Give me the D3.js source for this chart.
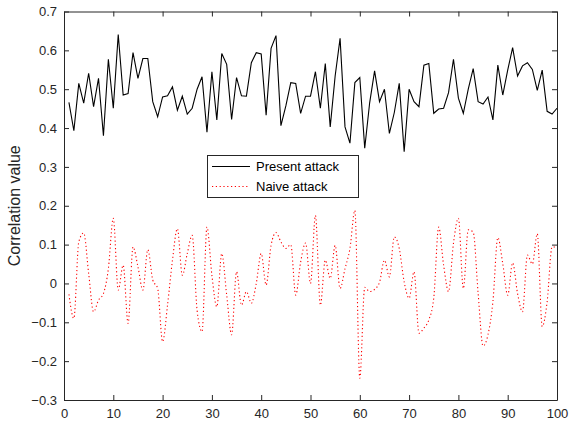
<!DOCTYPE html>
<html><head><meta charset="utf-8">
<script src="https://cdn.jsdelivr.net/npm/d3@7"></script>
<style>body{margin:0;background:#fff}svg{display:block}</style>
</head><body>
<svg id="c" width="569" height="428"></svg>
<script>
const xs = d3.range(1, 101);
const present = [0.466,0.393,0.515,0.464,0.541,0.455,0.528,0.380,0.577,0.451,
0.641,0.485,0.489,0.594,0.528,0.579,0.579,0.468,0.429,0.480,
0.483,0.506,0.446,0.482,0.436,0.451,0.500,0.532,0.389,0.545,
0.421,0.592,0.564,0.422,0.530,0.483,0.482,0.568,0.594,0.591,
0.433,0.605,0.638,0.406,0.457,0.517,0.515,0.438,0.482,0.482,
0.545,0.451,0.566,0.403,0.534,0.631,0.403,0.361,0.517,0.530,
0.348,0.465,0.547,0.468,0.500,0.386,0.440,0.515,0.339,0.500,
0.468,0.455,0.562,0.566,0.438,0.449,0.451,0.491,0.577,0.477,
0.438,0.500,0.553,0.468,0.462,0.480,0.421,0.562,0.485,0.549,
0.607,0.534,0.560,0.568,0.551,0.497,0.549,0.443,0.436,0.451];
const naive = [-0.028,-0.090,0.107,0.130,0.026,-0.073,-0.043,-0.026,0.038,0.168,
-0.017,0.047,-0.103,0.094,0.043,-0.017,0.087,0.009,-0.013,-0.150,
-0.056,0.060,0.141,0.021,0.077,0.124,-0.070,-0.124,0.145,0.021,
-0.060,0.077,-0.030,-0.132,0.030,-0.056,-0.021,-0.051,0.000,0.077,
-0.004,0.098,0.131,0.107,0.090,0.100,-0.030,0.055,0.104,0.000,
0.175,-0.056,0.060,0.013,0.098,-0.013,0.038,0.090,0.188,-0.244,
-0.010,-0.021,-0.015,0.003,0.060,0.017,0.120,0.090,0.004,-0.038,
0.030,-0.128,-0.115,-0.094,-0.038,0.145,0.047,-0.021,0.103,0.168,
-0.013,0.138,0.132,-0.025,-0.161,-0.132,-0.047,0.118,0.051,-0.030,
0.053,-0.026,-0.073,0.073,0.050,0.128,-0.111,-0.047,0.094,0.094];
const xTicks = d3.range(0, 101, 10);
const yTicks = [-0.3,-0.2,-0.1,0,0.1,0.2,0.3,0.4,0.5,0.6,0.7];
const seriesNames = ["Present attack", "Naive attack"];

const L = 64, R = 557, T = 11.5, B = 400;
const svg = d3.select("#c");
const x = d3.scaleLinear().domain([0, 100]).range([L, R]);
const y = d3.scaleLinear().domain([-0.3, 0.7]).range([B, T]);
const axCol = "#262626";
const font = "'Liberation Sans', Arial, Helvetica, sans-serif";

// data lines
const line1 = d3.line().x((d, i) => x(xs[i])).y(d => y(d));
svg.append("path").datum(present).attr("d", line1)
  .attr("fill", "none").attr("stroke", "#000").attr("stroke-width", 1.1);
const line2 = d3.line().x((d, i) => x(xs[i])).y(d => y(d)).curve(d3.curveMonotoneX);
svg.append("path").datum(naive).attr("d", line2)
  .attr("fill", "none").attr("stroke", "#ff0000").attr("stroke-width", 1.1)
  .attr("stroke-dasharray", "1.2,2.6");

// axes
const tl = 5;
const gB = svg.append("g").attr("transform", `translate(0,${B})`)
  .call(d3.axisBottom(x).tickValues(xTicks).tickSizeInner(-tl).tickSizeOuter(0).tickPadding(9));
const gT = svg.append("g").attr("transform", `translate(0,${T})`)
  .call(d3.axisTop(x).tickValues(xTicks).tickSizeInner(-tl).tickSizeOuter(0).tickFormat(""));
const gL = svg.append("g").attr("transform", `translate(${L},0)`)
  .call(d3.axisLeft(y).tickValues(yTicks).tickSizeInner(-tl).tickSizeOuter(0).tickPadding(7)
    .tickFormat(d => d3.format("")(Math.round(d * 10) / 10)));
const gR = svg.append("g").attr("transform", `translate(${R},0)`)
  .call(d3.axisRight(y).tickValues(yTicks).tickSizeInner(-tl).tickSizeOuter(0).tickFormat(""));
[gB, gT, gL, gR].forEach(g => {
  g.select(".domain").attr("stroke", axCol).attr("stroke-width", 1);
  g.selectAll(".tick line").attr("stroke", axCol).attr("stroke-width", 1);
  g.selectAll("text").attr("fill", axCol).style("font-family", font).style("font-size", "13px");
});

svg.append("text").attr("transform", `translate(20,${(T + B) / 2}) rotate(-90)`)
  .attr("text-anchor", "middle").attr("fill", axCol)
  .style("font-family", font).style("font-size", "16px").text("Correlation value");

// legend
const lg = svg.append("g");
lg.append("rect").attr("x", 207.5).attr("y", 155.5).attr("width", 151).attr("height", 42)
  .attr("fill", "#fff").attr("stroke", axCol).attr("stroke-width", 1);
const legY = [166.5, 186.5];
const legStyles = [{c: "#000", d: null}, {c: "#ff0000", d: "1.2,2.6"}];
seriesNames.forEach((n, i) => {
  lg.append("line").attr("x1", 212).attr("x2", 250).attr("y1", legY[i]).attr("y2", legY[i])
    .attr("stroke", legStyles[i].c).attr("stroke-width", 1.1).attr("stroke-dasharray", legStyles[i].d);
  lg.append("text").attr("x", 256).attr("y", legY[i] + 4.5).attr("fill", "#000")
    .style("font-family", font).style("font-size", "13px").text(n);
});
</script>
</body></html>
